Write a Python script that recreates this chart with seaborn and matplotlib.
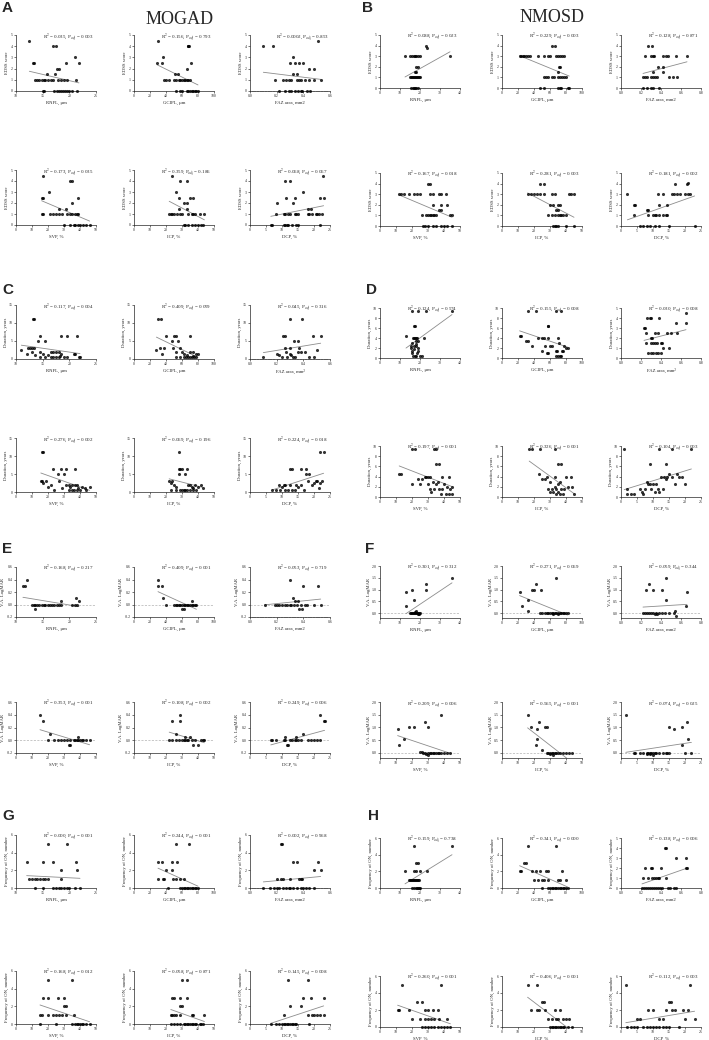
import matplotlib
matplotlib.use('Agg')
import matplotlib.pyplot as plt
import seaborn as sns
from matplotlib.ticker import FormatStrFormatter, AutoMinorLocator

# ---- data: (x, y) points, one list per small plot ----
# A: EDSS score, MOGAD
a_rnfl = [(12.5, 4.5), (13.1, 2.5), (13.3, 2.5), (17, 4), (17.5, 4), (19.3, 2.5), (21, 3), (21.8, 2.5),
          (15.8, 1.5), (17.3, 1.5), (17.7, 2), (18, 2),
          (13.6, 1), (14, 1), (14.4, 1), (14.8, 1), (15.2, 1), (15.5, 1), (16, 1), (16.5, 1), (17, 1),
          (17.8, 1), (18.5, 1), (19, 1), (19.5, 1), (21.3, 1),
          (15, 0), (15.3, 0), (17.2, 0), (17.6, 0), (18, 0), (18.4, 0), (18.8, 0), (19.2, 0), (19.6, 0),
          (20, 0), (20.5, 0), (21.5, 0)]
a_gcipl = [(30, 4.5), (29, 2.5), (35, 2.5), (36, 3), (67, 4), (68, 4), (69, 4), (66, 2), (71, 2.5), (51, 1.5),
           (55, 1.5), (38, 1), (40, 1), (44, 1), (50, 1), (53, 1), (56, 1), (58, 1), (60, 1), (62, 1), (64, 1),
           (66, 1), (68, 1), (70, 1), (52, 0), (58, 0), (60, 0), (66, 0), (68, 0), (70, 0), (72, 0), (74, 0),
           (76, 0), (78, 0), (80, 0)]
a_faz = [(0.1, 4), (0.175, 4), (0.51, 4.5), (0.32, 3), (0.3, 2.5), (0.34, 2.5), (0.37, 2.5), (0.4, 2.5),
         (0.32, 1.5), (0.35, 1.5), (0.44, 2), (0.48, 2),
         (0.19, 1), (0.25, 1), (0.27, 1), (0.29, 1), (0.31, 1), (0.35, 1), (0.37, 1), (0.38, 1), (0.41, 1),
         (0.44, 1), (0.48, 1), (0.53, 1),
         (0.22, 0), (0.26, 0), (0.29, 0), (0.31, 0), (0.34, 0), (0.36, 0), (0.38, 0), (0.39, 0), (0.43, 0),
         (0.45, 0)]
a_svp = [(17, 4.5), (16, 2.5), (17, 2.5), (20.5, 3), (34, 4), (35, 4), (35, 2), (39, 2.5), (27, 1.5), (31, 1.5),
         (16, 1), (17, 1), (21, 1), (23, 1), (25, 1), (27, 1), (29, 1), (32, 1), (34, 1), (35, 1), (37, 1),
         (38, 1), (39, 1), (30, 0), (34, 0), (36, 0), (37, 0), (39, 0), (40, 0), (42, 0), (44, 0), (46, 0)]
a_icp = [(24, 4.5), (26, 3), (29, 4), (33, 4), (28, 2.5), (35, 2.5), (37, 2.5), (31, 2), (33, 2), (28, 1.5),
         (33, 1.5), (22, 1), (23, 1), (24, 1), (25, 1), (27, 1), (29, 1), (30, 1), (34, 1), (36, 1), (37, 1),
         (38, 1), (41, 1), (44, 1), (31, 0), (32, 0), (34, 0), (36, 0), (38, 0), (40, 0), (42, 0), (43, 0)]
a_dcp = [(8.5, 2), (11, 4), (12.5, 4), (11.2, 2.5), (13.5, 2), (14, 2.5), (16.5, 3), (18, 1.5), (19, 1.5),
         (22, 2.5), (22.8, 4.5), (23, 2.5),
         (8, 1), (10.5, 1), (11, 1), (12, 1), (12.5, 1), (14, 1), (14.5, 1), (15, 1), (18, 1), (18.5, 1),
         (19.5, 1), (20.5, 1), (21, 1), (21.5, 1), (22.5, 1),
         (6.5, 0), (7, 0), (10.5, 0), (11, 0), (11.5, 0), (12, 0), (13, 0), (14.5, 0), (15, 0), (22, 0)]

# B: EDSS score, NMOSD
b_rnfl = [(23, 4), (23.5, 3.8), (12.5, 3), (15, 3), (16, 3), (17, 3), (17.5, 3), (18, 3), (19, 3), (20, 3),
          (35, 3), (18, 2), (19, 2), (17.5, 1.5), (18, 1.5),
          (15, 1), (15.5, 1), (16, 1), (16.5, 1), (17, 1), (17.5, 1), (18, 1), (18.5, 1), (19, 1), (19.5, 1),
          (20, 1), (15.5, 0), (16.5, 0), (17, 0), (17.5, 0), (18, 0), (19, 0)]
b_gcipl = [(62, 4), (66, 4), (22, 3), (24, 3), (26, 3), (28, 3), (30, 3), (32, 3), (35, 3), (45, 3), (52, 3),
           (58, 3), (60, 3), (68, 3), (70, 3), (72, 3), (75, 3), (78, 3), (71, 2), (73, 2), (70, 1.5),
           (52, 1), (55, 1), (58, 1), (62, 1), (65, 1), (70, 1), (72, 1), (75, 1), (78, 1), (80, 1),
           (48, 0), (52, 0), (70, 0), (72, 0), (74, 0), (82, 0), (84, 0)]
b_faz = [(0.27, 4), (0.31, 4), (0.24, 3), (0.30, 3), (0.32, 3), (0.33, 3), (0.42, 3), (0.45, 3), (0.47, 3),
         (0.55, 3), (0.66, 3), (0.37, 2), (0.42, 2), (0.42, 1.5), (0.32, 1.5),
         (0.22, 1), (0.24, 1), (0.26, 1), (0.30, 1), (0.32, 1), (0.34, 1), (0.36, 1), (0.48, 1), (0.52, 1),
         (0.56, 1), (0.22, 0), (0.26, 0), (0.30, 0), (0.32, 0), (0.38, 0)]
b_svp = [(30, 4), (31, 4), (12, 3), (13, 3), (15, 3), (18, 3), (21, 3), (23, 3), (25, 3), (31, 3), (33, 3),
         (37, 3), (38, 3), (41, 3), (33, 2), (38, 2), (42, 2), (37, 1.5), (38, 1.5),
         (26, 1), (29, 1), (30, 1), (31, 1), (32, 1), (33, 1), (34, 1), (35, 1), (44, 1), (45, 1),
         (27, 0), (28, 0), (30, 0), (33, 0), (35, 0), (38, 0), (40, 0), (42, 0), (45, 0)]
b_icp = [(24, 4), (26, 4), (16, 3), (18, 3), (20, 3), (22, 3), (24, 3), (26, 3), (31, 3), (33, 3), (42, 3),
         (43, 3), (45, 3), (30, 2), (32, 2), (35, 2), (36, 2), (34, 1.5), (35, 1.5),
         (29, 1), (31, 1), (33, 1), (35, 1), (36, 1), (37, 1), (38, 1), (40, 1),
         (32, 0), (33, 0), (34, 0), (35, 0), (40, 0), (45, 0)]
b_dcp = [(2, 3), (4, 2), (4.5, 2), (4.2, 1), (17, 4), (20.5, 4), (21, 4.1), (11.5, 3), (13, 3), (16, 3),
         (16.5, 3), (17.5, 3), (18.5, 3), (20, 3), (21, 3), (21.5, 3), (12, 2), (14.5, 2), (8, 1.5), (8.5, 1.5),
         (8.5, 1), (10, 1), (10.5, 1), (11, 1), (12, 1), (13, 1), (14, 1), (14.5, 1),
         (6, 0), (7, 0), (8, 0), (9, 0), (10.5, 0), (12, 0), (15, 0), (23, 0)]

# C: Duration, MOGAD
c_rnfl = [(13.2, 11), (13.4, 11), (11, 2.5), (12.2, 3), (12.6, 3), (13, 3), (13.4, 3), (12, 1.5), (13, 2),
          (13.5, 1), (14.2, 5), (15.5, 5), (14.5, 6.5), (18.5, 6.5), (19.5, 6.5), (21.5, 6.5), (14.5, 2),
          (16.5, 2), (17, 2), (17.5, 2), (18, 2), (15, 1.5), (18.5, 1.5), (20.8, 1.5), (21, 1.5),
          (14.5, 0.5), (15.5, 0.5), (16.5, 0.5), (17, 0.5), (17.5, 0.5), (18, 0.5), (19, 0.5), (19.5, 0.5),
          (21.8, 0.5), (22, 0.5), (16, 1), (18.2, 0.8)]
c_gcipl = [(30, 11), (34, 11), (28, 2.5), (33, 3), (38, 3), (35, 1.5), (40, 6.5), (50, 6.5), (53, 6.5),
           (70, 6.5), (48, 5), (55, 5), (49, 3), (53, 2), (58, 3), (60, 2), (62, 1.5),
           (52, 0.5), (58, 0.5), (62, 0.5), (65, 0.5), (68, 0.5), (70, 0.5), (72, 0.5), (75, 0.5), (77, 0.5),
           (70, 2), (74, 2), (78, 1.5), (80, 1.5), (66, 1), (74, 0.8)]
c_faz = [(0.3, 11), (0.39, 11), (0.25, 6.5), (0.26, 6.5), (0.47, 6.5), (0.53, 6.5), (0.33, 5), (0.36, 5),
         (0.26, 3), (0.3, 3), (0.37, 3), (0.5, 2.5), (0.1, 0.5), (0.2, 1.5), (0.22, 1), (0.24, 0.5), (0.27, 2),
         (0.3, 1.5), (0.32, 0.5), (0.34, 0.5), (0.36, 2), (0.38, 2), (0.41, 2), (0.44, 0.5), (0.48, 0.5),
         (0.28, 0.5), (0.31, 1)]
c_svp = [(16, 11), (17, 11), (15.5, 3), (16.5, 3), (17, 2.5), (19, 3), (20, 1.5), (22, 2), (24, 0.5),
         (23, 6.5), (28, 6.5), (31, 6.5), (37, 6.5), (26, 5), (30, 5), (27, 3), (29, 1), (31, 2), (33, 2),
         (34, 1.5), (35, 2), (36, 0.5), (37, 2), (38, 2), (39, 1), (40, 0.5), (41, 1.5), (43, 1), (44, 0.5),
         (46, 1.5), (33, 0.5), (35, 0.5), (38, 0.5)]
c_icp = [(28, 11), (28, 6.5), (29, 6.5), (30, 6.5), (33, 6.5), (28, 5), (32, 5), (22, 3), (23, 2.5), (24, 3),
         (25, 2), (26, 1.5), (23, 0.5), (26, 0.5), (29, 0.5), (30, 0.5), (31, 0.5), (32, 0.5), (33, 0.5),
         (34, 2), (35, 2), (36, 1.5), (37, 1), (38, 2), (40, 1.5), (42, 2), (43, 1), (35, 0.5), (37, 0.5),
         (39, 0.5)]
c_dcp = [(22, 11), (23, 11), (12.5, 6.5), (13, 6.5), (16, 6.5), (17.5, 6.5), (17.5, 5), (18.5, 5), (18, 3),
         (19.5, 2), (20, 2.5), (20.5, 3), (21, 3), (22, 2.5), (21.5, 1), (22.5, 3),
         (7, 0.5), (8, 0.5), (9, 2), (10, 1.5), (10.5, 2), (11, 2), (12, 0.5), (12.5, 2), (13, 0.5), (14, 0.5),
         (14.5, 2), (15, 1.5), (16, 2), (17, 0.5), (11, 0.5), (9.5, 0.5)]

# D: Duration, NMOSD
d_rnfl = [(16, 9.5), (19, 9.5), (23, 9.5), (36, 9.5), (17, 6.5), (17.5, 6.5), (13, 4.5), (16.5, 4), (17, 4),
          (17.5, 4), (18, 4), (18.5, 4), (19, 3.5), (18, 3.5), (22, 4), (16, 3), (17, 2.5), (18, 2.5),
          (15.5, 2.5), (15.5, 2), (16, 1.5), (15.8, 1), (16.5, 0.5), (17.5, 0.5), (18, 0.5), (19, 1.5),
          (18.5, 1), (18.8, 2), (20, 0.5), (21, 0.5), (17, 1.8), (18, 2.8)]
d_gcipl = [(32, 9.5), (42, 9.5), (68, 9.5), (74, 9.5), (57, 6.5), (58, 6.5), (22, 4.5), (24, 4.5), (30, 3.5),
           (33, 3.5), (38, 2.5), (45, 4), (50, 4), (53, 4), (57, 4), (70, 4), (50, 1.5), (54, 2.5), (56, 1),
           (58, 1), (60, 2.5), (63, 2.5), (67, 1.5), (68, 0.5), (69, 1.5), (71, 3), (72, 0.5), (74, 0.5),
           (75, 1.5), (78, 2.5), (80, 2), (82, 2), (76, 1.5), (70, 0.5)]
d_faz = [(0.23, 3), (0.24, 3), (0.26, 4), (0.29, 4), (0.3, 4), (0.38, 4), (0.65, 4.5), (0.55, 3.5), (0.65, 3.5),
         (0.25, 2.5), (0.34, 2.5), (0.37, 2.5), (0.46, 2.5), (0.5, 2.5), (0.56, 2.5), (0.25, 1.5), (0.3, 2),
         (0.31, 2), (0.32, 1.5), (0.34, 1.5), (0.36, 1.5), (0.3, 1.5), (0.41, 1.5), (0.42, 1.0), (0.4, 1.5),
         (0.48, 1), (0.27, 0.5), (0.3, 0.5), (0.35, 0.5), (0.37, 0.5), (0.32, 0.5), (0.4, 0.5)]
d_svp = [(20, 9.5), (22, 9.5), (34, 9.5), (35, 9.5), (12, 4.5), (13, 4.5), (24, 3.5), (26, 3.5), (20, 2.5),
         (28, 4), (29, 4), (30, 4), (31, 4), (39, 4), (43, 4), (35, 6.5), (37, 6.5), (25, 2.5), (30, 2.5),
         (31, 1.5), (32, 1), (33, 3), (34, 1.5), (35, 2.5), (36, 3), (37, 1.5), (38, 0.5), (39, 1.5),
         (40, 2.5), (41, 0.5), (42, 2), (43, 0.5), (44, 1.5), (45, 2), (45, 0.5)]
d_icp = [(17, 9.5), (19, 9.5), (24, 9.5), (33, 9.5), (35, 6.5), (37, 6.5), (23, 4.5), (25, 3.5), (27, 3.5),
         (28, 4), (30, 3), (33, 4), (40, 4), (43, 4), (29, 1.5), (30, 1), (31, 1.5), (32, 1), (33, 2), (34, 1.5),
         (35, 2.5), (36, 3), (34, 0.5), (36, 0.5), (38, 0.5), (39, 1.5), (41, 2), (44, 2), (45, 0.5),
         (37, 1.5), (35, 1)]
d_dcp = [(1, 9.5), (12, 9.5), (16, 9.5), (22, 9.5), (9, 6.5), (14, 6.5), (2, 1.5), (2, 0.5), (4, 0.5), (3, 0.5),
         (6, 1.5), (6.5, 1), (7, 0.5), (7.5, 1.5), (8, 3), (8.5, 2.5), (9, 2.5), (9.5, 1.5), (10, 2.5),
         (10.5, 1), (11, 2.5), (11.5, 1.5), (12, 1), (12.5, 4), (13, 1.5), (13.5, 4), (14, 3.5), (14.5, 4),
         (15, 4.5), (16, 4), (17, 2.5), (17.5, 4.5), (18, 4), (19, 4), (20, 2.5)]

# E: V.A. LogMAR, MOGAD
e_rnfl = [(11.3, 0.3), (11.6, 0.3), (12, 0.4), (13.5, -0.075), (18.5, 0.05), (21.2, 0.1), (21.8, 0.05),
          (13, 0), (13.3, 0), (13.6, 0), (14, 0), (14.4, 0), (14.8, 0), (15.2, 0), (15.5, 0), (16, 0),
          (16.4, 0), (16.8, 0), (17.2, 0), (17.6, 0), (18, 0), (18.5, 0), (20.5, 0), (21, 0), (21.5, 0)]
e_gcipl = [(30, 0.4), (30, 0.3), (35, 0.3), (36, 0.1), (40, 0), (60, -0.075), (62, -0.075), (72, 0.05),
           (50, 0), (52, 0), (54, 0), (56, 0), (58, 0), (60, 0), (62, 0), (64, 0), (66, 0), (68, 0), (70, 0),
           (72, 0), (74, 0), (76, 0), (78, 0)]
e_faz = [(0.3, 0.4), (0.4, 0.3), (0.51, 0.3), (0.32, 0.1), (0.34, 0.05), (0.36, 0.05), (0.37, -0.075),
         (0.39, -0.075), (0.11, 0), (0.19, 0), (0.2, 0), (0.22, 0), (0.24, 0), (0.26, 0), (0.28, 0), (0.3, 0),
         (0.31, 0), (0.33, 0), (0.35, 0), (0.38, 0), (0.41, 0), (0.43, 0), (0.48, 0), (0.53, 0)]
e_svp = [(15, 0.4), (17, 0.3), (21, 0.1), (20, 0), (33, -0.075), (34, -0.075), (39, 0.05),
         (24, 0), (26, 0), (28, 0), (30, 0), (32, 0), (34, 0), (36, 0), (37, 0), (38, 0), (39, 0), (40, 0),
         (41, 0), (42, 0), (44, 0), (46, 0)]
e_icp = [(24, 0.3), (29, 0.4), (29, 0.3), (26, 0.1), (32, 0.05), (35, 0.05), (37, -0.075), (40, -0.075),
         (22, 0), (24, 0), (26, 0), (28, 0), (30, 0), (31, 0), (32, 0), (33, 0), (34, 0), (36, 0), (38, 0),
         (42, 0), (43, 0), (44, 0)]
e_dcp = [(22, 0.4), (23, 0.3), (23.3, 0.3), (16.5, 0.1), (14.5, 0.05), (11, 0.05), (11.5, -0.075),
         (12, -0.075), (6.5, 0), (7, 0), (8, 0), (10.5, 0), (11, 0), (12.5, 0), (13, 0), (14, 0), (14.5, 0),
         (15, 0), (16, 0), (18, 0), (19, 0), (20, 0), (21, 0), (22, 0)]

# F: V.A. LogMAR, NMOSD
f_rnfl = [(13, 0.92), (16, 1.0), (17, 0.55), (13, 0.3), (23, 1.0), (23, 1.22), (36, 1.5), (18, 0.1),
          (17.5, 0.05), (19, -0.05), (19.5, -0.05), (15, 0), (15.5, 0), (16, 0), (16.5, 0), (17, 0), (17.5, 0),
          (18, 0), (18.5, 0), (19, 0), (19.5, 0), (20, 0)]
f_gcipl = [(22, 0.92), (25, 0.3), (32, 0.55), (32, 0.1), (38, 1.0), (40, 1.0), (42, 1.22), (49, 1.0),
           (67, 1.5), (64, -0.05), (70, -0.05), (48, 0), (50, 0), (54, 0), (56, 0), (58, 0), (60, 0), (62, 0),
           (64, 0), (66, 0), (68, 0), (70, 0), (72, 0), (74, 0), (76, 0), (78, 0), (80, 0), (82, 0)]
f_faz = [(0.25, 1.0), (0.28, 1.22), (0.32, 1.0), (0.41, 1.0), (0.45, 1.5), (0.45, 0.55), (0.66, 0.92),
         (0.65, 0.3), (0.54, 0.1), (0.55, -0.1), (0.34, -0.05), (0.36, -0.05), (0.22, 0), (0.24, 0), (0.26, 0),
         (0.28, 0), (0.3, 0), (0.32, 0), (0.35, 0), (0.38, 0), (0.41, 0), (0.44, 0), (0.48, 0), (0.53, 0)]
f_svp = [(11, 0.92), (12, 0.3), (15, 0.55), (18, 1.0), (21, 1.0), (28, 1.22), (30, 1.0), (38, 1.5),
         (25, 0.05), (26, 0.05), (29, -0.05), (30, -0.1), (27, 0), (28, 0), (30, 0), (31, 0), (32, 0), (33, 0),
         (34, 0), (35, 0), (36, 0), (37, 0), (38, 0), (40, 0), (42, 0), (44, 0)]
f_icp = [(16, 1.5), (18, 1.0), (22, 0.92), (23, 1.22), (22, 0.55), (21, 0.3), (25, 0.1), (27, 1.0), (28, 1.0),
         (28, 0), (29, 0), (30, 0), (31, 0), (32, 0), (33, 0), (34, 0), (35, 0), (36, 0), (38, 0), (40, 0),
         (42, 0), (44, 0), (30, -0.05), (32, -0.1)]
f_dcp = [(1.5, 1.5), (15, 1.0), (16.5, 0.92), (19, 1.0), (20.5, 1.22), (21, 0.55), (19, 0.3), (20, 0), (22, 0),
         (4, 0), (4.5, 0), (6, 0), (7, 0), (8, 0), (8.5, 0), (9, 0), (9.5, 0), (10, 0), (10.5, 0), (11, 0),
         (12, 0), (13, 0), (14, 0), (14.5, 0), (15, 0), (8, -0.05), (9, -0.05), (10, -0.1)]

# G: Frequency of ON, MOGAD
g_rnfl = [(12, 3), (16, 5), (19.5, 5), (15, 3), (17, 3), (21.3, 3), (21.5, 2), (18.5, 2), (18.5, 1),
          (12.5, 1), (13, 1), (13.5, 1), (14, 1), (14.5, 1), (15, 1), (15.5, 1), (16, 1),
          (13.5, 0), (15, 0), (17, 0), (17.5, 0), (18, 0), (18.5, 0), (19, 0), (19.5, 0), (20, 0), (21, 0),
          (22, 0)]
g_gcipl = [(30, 3), (35, 3), (48, 3), (54, 3), (52, 5), (69, 5), (40, 2), (48, 2), (30, 1), (36, 1), (38, 1),
           (49, 1), (52, 1), (58, 1), (63, 1), (42, 0), (58, 0), (60, 0), (62, 0), (64, 0), (66, 0), (68, 0),
           (70, 0), (72, 0), (74, 0), (76, 0), (78, 0), (80, 0)]
g_faz = [(0.23, 5), (0.24, 5), (0.32, 3), (0.35, 3), (0.51, 3), (0.48, 2), (0.53, 2),
         (0.2, 1), (0.23, 1), (0.25, 1), (0.3, 1), (0.37, 1), (0.38, 1), (0.39, 1),
         (0.1, 0), (0.15, 0), (0.18, 0), (0.2, 0), (0.22, 0), (0.25, 0), (0.27, 0), (0.29, 0), (0.3, 0),
         (0.32, 0), (0.35, 0), (0.38, 0), (0.4, 0), (0.42, 0), (0.44, 0), (0.48, 0)]
g_svp = [(20, 5), (35, 5), (17, 3), (20, 3), (26, 3), (30, 3), (30, 2), (31, 2),
         (15, 1), (16, 1), (20, 1), (23, 1), (25, 1), (27, 1), (29, 1), (31, 1), (36, 1),
         (15, 0), (25, 0), (35, 0), (37, 0), (38, 0), (39, 0), (40, 0), (41, 0), (42, 0), (44, 0), (46, 0)]
g_icp = [(30, 5), (33, 5), (24, 3), (25, 3), (29, 3), (33, 3), (29, 2), (30, 2),
         (23, 1), (24, 1), (25, 1), (26, 1), (29, 1), (36, 1), (37, 1), (44, 1),
         (23, 0), (25, 0), (27, 0), (29, 0), (31, 0), (32, 0), (33, 0), (34, 0), (35, 0), (36, 0), (37, 0),
         (38, 0), (39, 0), (41, 0), (42, 0), (43, 0)]
g_dcp = [(12, 5), (18, 5), (16.5, 3), (19, 3), (23, 3), (12.5, 2), (16, 2), (10.5, 1), (18, 1), (19.5, 1),
         (20, 1), (21, 1), (22, 1), (23, 1), (6.5, 0), (8, 0), (9, 0), (10, 0), (10.5, 0), (11, 0), (11.5, 0),
         (12, 0), (12.5, 0), (13, 0), (13.5, 0), (14, 0), (14.5, 0), (18.5, 0)]

# H: Frequency of ON, NMOSD
h_rnfl = [(17, 5), (36, 5), (18, 3), (19, 3), (12.5, 2), (17, 2), (18, 2), (20, 2), (23.5, 2),
          (14.5, 1), (15, 1), (15.5, 1), (16, 1), (16.5, 1), (17, 1), (17.5, 1), (18, 1), (18.5, 1), (19, 1),
          (19.5, 1), (16, 0), (17, 0), (18, 0), (18.5, 0), (19, 0), (19.5, 0), (20, 0)]
h_gcipl = [(32, 5), (68, 5), (28, 3), (30, 3), (22, 2), (24, 2), (38, 2), (42, 2), (48, 2), (55, 2), (57, 2),
           (75, 2), (40, 1), (45, 1), (50, 1), (53, 1), (58, 1), (70, 1), (72, 1), (80, 1),
           (50, 0), (57, 0), (60, 0), (62, 0), (64, 0), (66, 0), (68, 0), (70, 0), (72, 0), (74, 0), (76, 0),
           (78, 0), (80, 0), (82, 0)]
h_faz = [(0.44, 4), (0.45, 4), (0.55, 3), (0.65, 3), (0.24, 2), (0.3, 2), (0.31, 2), (0.4, 2), (0.65, 2),
         (0.66, 2), (0.22, 1), (0.27, 1), (0.31, 1), (0.33, 1), (0.35, 1), (0.37, 1), (0.38, 1), (0.45, 1),
         (0.21, 0), (0.23, 0), (0.25, 0), (0.27, 0), (0.29, 0), (0.31, 0), (0.33, 0), (0.35, 0), (0.37, 0),
         (0.39, 0), (0.41, 0), (0.47, 0), (0.49, 0), (0.53, 0), (0.55, 0)]
h_svp = [(14, 5), (38, 5), (11, 2), (12, 2), (18, 2), (23, 3), (26, 3), (20, 1), (28, 2), (30, 2), (33, 2),
         (36, 2), (25, 1), (28, 1), (30, 1), (32, 1), (34, 1), (37, 1), (42, 1),
         (26, 0), (28, 0), (30, 0), (32, 0), (34, 0), (36, 0), (38, 0), (40, 0), (42, 0), (44, 0)]
h_icp = [(16, 5), (22, 5), (25, 3), (26, 3), (18, 2), (22, 2), (23, 2), (27, 2), (29, 1), (33, 2), (36, 2),
         (31, 1), (34, 1), (35, 1), (38, 1), (40, 1), (42, 1),
         (30, 0), (31, 0), (32, 0), (33, 0), (34, 0), (35, 0), (36, 0), (37, 0), (38, 0), (39, 0), (41, 0),
         (44, 0)]
h_dcp = [(1.5, 5), (21.5, 5), (15, 3), (15.5, 3), (5, 1), (6, 1), (8.5, 2), (10, 2), (12, 1), (13, 1), (14, 2),
         (16, 2), (17, 2), (19.5, 2), (21, 2), (20, 1), (23, 1),
         (2, 0), (3, 0), (4, 0), (5, 0), (7, 0), (8, 0), (9, 0), (10, 0), (11, 0), (12, 0), (13, 0), (14, 0),
         (15, 0), (18, 0)]

# R^2 and adjusted P values printed above each plot
a_r2 = ['0.035', '0.156', '0.0002', '0.173', '0.359', '0.068']
a_p = ['0.003', '0.793', '0.853', '0.035', '0.186', '0.067']
b_r2 = ['0.088', '0.229', '0.128', '0.167', '0.281', '0.181']
b_p = ['0.023', '0.003', '0.871', '0.018', '0.003', '0.002']
c_r2 = ['0.117', '0.409', '0.045', '0.276', '0.069', '0.224']
c_p = ['0.004', '0.059', '0.316', '0.002', '0.196', '0.018']
d_r2 = ['0.124', '0.155', '0.030', '0.197', '0.326', '0.104']
d_p = ['0.574', '0.008', '0.008', '0.001', '0.001', '0.003']
e_r2 = ['0.168', '0.409', '0.053', '0.353', '0.108', '0.249']
e_p = ['0.217', '0.001', '0.719', '0.001', '0.002', '0.006']
f_r2 = ['0.301', '0.271', '0.059', '0.209', '0.565', '0.074']
f_p = ['0.312', '0.069', '0.344', '0.006', '0.001', '0.025']
g_r2 = ['0.000', '0.244', '0.002', '0.168', '0.058', '0.145']
g_p = ['0.001', '0.001', '0.968', '0.012', '0.871', '0.008']
h_r2 = ['0.159', '0.341', '0.138', '0.260', '0.406', '0.112']
h_p = ['0.738', '0.000', '0.006', '0.001', '0.001', '0.003']

xlabels = ['RNFL, μm', 'GCIPL, μm', 'FAZ area, mm2', 'SVP, %', 'ICP, %', 'DCP, %']

# ---- style ----
sns.set_style('ticks')
plt.rcParams['font.family'] = ['Liberation Serif', 'DejaVu Serif']
plt.rcParams['mathtext.fontset'] = 'stix'

W, H = 709, 1040
fig = plt.figure(figsize=(W / 100, H / 100), dpi=100)

# pixel layout: column lefts / widths and row (top, bottom) for left and right halves
cols = {0: ([16, 134, 250], 80), 1: ([380, 502, 621], 80)}
rows = {0: [(35, 91), (170, 225), (305, 359), (438, 492), (567, 617), (702, 753), (835, 888), (971, 1024)],
        1: [(35, 88), (173, 226), (308, 358), (446, 497), (566, 618), (702, 758), (838, 888), (976, 1027)]}

xcfg = {0: [((10, 25), [10, 15, 20, 25]), ((0, 100), [0, 20, 40, 60, 80, 100]), ((0, 0.6), [0, 0.2, 0.4, 0.6]),
            ((0, 50), [0, 10, 20, 30, 40, 50]), ((0, 50), [0, 10, 20, 30, 40, 50]), ((0, 25), [0, 5, 10, 15, 20, 25])],
        1: [((0, 40), [0, 10, 20, 30, 40]), ((0, 100), [0, 20, 40, 60, 80, 100]), ((0, 0.8), [0, 0.2, 0.4, 0.6, 0.8]),
            ((0, 50), [0, 10, 20, 30, 40, 50]), ((0, 50), [0, 10, 20, 30, 40, 50]), ((0, 25), [0, 5, 10, 15, 20, 25])]}

panels = [
    dict(letter='A', side=0, block=0, ylabel='EDSS score', ylim=(0, 5), yticks=range(6),
         data=[a_rnfl, a_gcipl, a_faz, a_svp, a_icp, a_dcp], r2=a_r2, p=a_p),
    dict(letter='B', side=1, block=0, ylabel='EDSS score', ylim=(0, 5), yticks=range(6),
         data=[b_rnfl, b_gcipl, b_faz, b_svp, b_icp, b_dcp], r2=b_r2, p=b_p),
    dict(letter='C', side=0, block=1, ylabel='Duration, years', ylim=(0, 15), yticks=[0, 5, 10, 15],
         data=[c_rnfl, c_gcipl, c_faz, c_svp, c_icp, c_dcp], r2=c_r2, p=c_p),
    dict(letter='D', side=1, block=1, ylabel='Duration, years', ylim=(0, 10), yticks=[0, 2, 4, 6, 8, 10],
         data=[d_rnfl, d_gcipl, d_faz, d_svp, d_icp, d_dcp], r2=d_r2, p=d_p, faz_y=((0, 5), range(6))),
    dict(letter='E', side=0, block=2, ylabel='V.A. LogMAR', ylim=(-0.2, 0.6), yticks=[-0.2, 0, 0.2, 0.4, 0.6],
         data=[e_rnfl, e_gcipl, e_faz, e_svp, e_icp, e_dcp], r2=e_r2, p=e_p, zero=True),
    dict(letter='F', side=1, block=2, ylabel='V.A. LogMAR', ylim=(-0.2, 2.0), yticks=[0, 0.5, 1.0, 1.5, 2.0],
         data=[f_rnfl, f_gcipl, f_faz, f_svp, f_icp, f_dcp], r2=f_r2, p=f_p, zero=True),
    dict(letter='G', side=0, block=3, ylabel='Frequency of ON, number', ylim=(0, 6), yticks=[0, 2, 4, 6],
         data=[g_rnfl, g_gcipl, g_faz, g_svp, g_icp, g_dcp], r2=g_r2, p=g_p),
    dict(letter='H', side=1, block=3, ylabel='Frequency of ON, number', ylim=(0, 6), yticks=[0, 2, 4, 6],
         data=[h_rnfl, h_gcipl, h_faz, h_svp, h_icp, h_dcp], r2=h_r2, p=h_p, faz_y=((0, 5), range(6))),
]

for pan in panels:
    side = pan['side']
    lefts, w = cols[side]
    for k in range(6):
        top, bot = rows[side][2 * pan['block'] + k // 3]
        left = lefts[k % 3]
        ax = fig.add_axes([left / W, 1 - bot / H, w / W, (bot - top) / H])
        pts = pan['data'][k]
        xs = [pt[0] for pt in pts]
        ys = [pt[1] for pt in pts]
        if pan.get('zero'):
            ax.axhline(0, color='#b0b0b0', lw=0.5, ls=(0, (3, 2)), zorder=0)
        sns.regplot(x=xs, y=ys, ax=ax, ci=None,
                    scatter_kws=dict(s=5, color='black', linewidths=0, clip_on=False, zorder=3),
                    line_kws=dict(color='#8c8c8c', lw=0.6))
        (xl, xt) = xcfg[side][k]
        ax.set_xlim(*xl)
        ax.set_xticks(xt)
        ylim, yt = pan['ylim'], pan['yticks']
        if k == 2 and 'faz_y' in pan:
            ylim, yt = pan['faz_y']
        ax.set_ylim(*ylim)
        ax.set_yticks(list(yt))
        if k == 2:
            ax.xaxis.set_major_formatter(FormatStrFormatter('%.1f'))
            if side == 0:
                ax.xaxis.set_minor_locator(AutoMinorLocator(10))
        if pan['letter'] in 'EF':
            ax.yaxis.set_major_formatter(FormatStrFormatter('%.1f'))
        xlab = xlabels[k]
        if k == 2 and pan['letter'] in 'CD':
            xlab = 'FAZ area, mm²'
        ax.set_xlabel(xlab, fontsize=3.4, labelpad=2)
        ax.set_ylabel(pan['ylabel'], fontsize=3.4, labelpad=1)
        ax.tick_params(which='major', length=1.5, width=0.45, labelsize=2.8, pad=0.8)
        ax.tick_params(which='minor', length=0.9, width=0.35)
        for s in ('left', 'bottom'):
            ax.spines[s].set_linewidth(0.5)
        sns.despine(ax=ax)
        ax.text(0.65, 0.96, 'R$^2$ = %s, P$_{adj}$ = %s' % (pan['r2'][k], pan['p'][k]),
                transform=ax.transAxes, ha='center', va='center', fontsize=3.6)

# panel letters and group titles
letter_pos = {'A': (2, 8), 'B': (362, 8), 'C': (2, 290), 'D': (366, 290),
              'E': (2, 549), 'F': (365, 549), 'G': (2, 816), 'H': (368, 816)}
for let, (px, py) in letter_pos.items():
    fig.text(px / W, 1 - py / H, let, ha='left', va='center', fontsize=11, fontweight='bold',
             family=['Liberation Sans', 'DejaVu Sans'])
fig.text(180 / W, 1 - 20 / H, 'MOGAD', ha='center', va='center', fontsize=13)
fig.text(552 / W, 1 - 18 / H, 'NMOSD', ha='center', va='center', fontsize=13)

fig.savefig('out.png', dpi=100)
